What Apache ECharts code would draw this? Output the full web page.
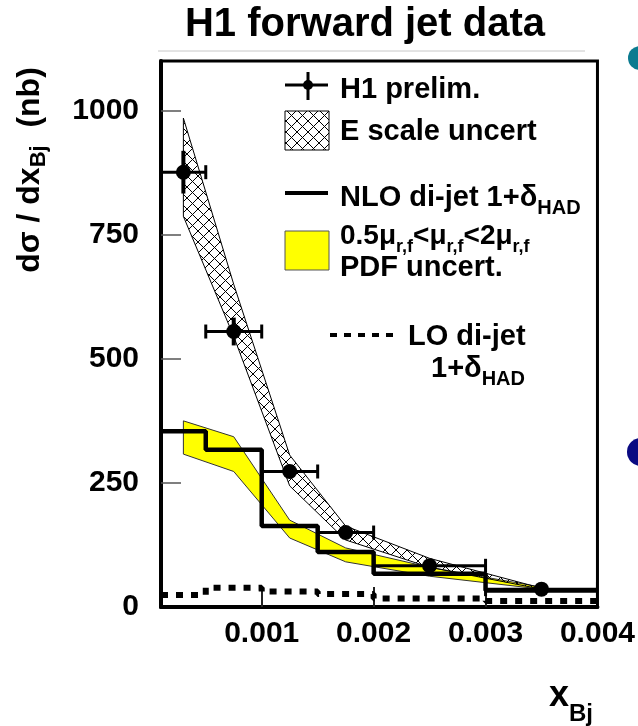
<!DOCTYPE html>
<html>
<head>
<meta charset="utf-8">
<script src="https://cdn.jsdelivr.net/npm/echarts@6/dist/echarts.min.js"></script>
<style>
html, body { margin: 0; padding: 0; background: #fff; }
#main { width: 638px; height: 726px; }
</style>
</head>
<body>
<div id="main"></div>
<script>
// bins in x_Bj
var binEdges = [0.0001, 0.0005, 0.001, 0.0015, 0.002, 0.003, 0.004];
// H1 prelim. points
var dataX = [0.0003, 0.00075, 0.00125, 0.00175, 0.0025, 0.0035];
var dataY = [876, 555, 273, 150, 83, 36];
var dataYErr = [43, 28, 8, 6, 5, 4];
// NLO / LO histograms (per bin)
var nloY = [354, 317, 163, 111, 67, 33];
var loY = [24, 39, 31, 26, 17, 12];
// bands
var bandX = [0.0003, 0.00075, 0.00125, 0.00175, 0.0025, 0.0035];
var escaleHigh = [985, 650, 306, 163, 98, 38];
var escaleLow = [787, 545, 244, 135, 80, 36];
var nloHigh = [375, 343, 175, 119, 80, 40];
var nloLow = [308, 273, 139, 91, 62, 36];
// tick labels
var xTicks = [0.001, 0.002, 0.003, 0.004];
var yTicks = [0, 250, 500, 750, 1000];

var FONT = '"Liberation Sans", Arial, Helvetica, sans-serif';

function makeHatch() {
    var c = document.createElement('canvas');
    c.width = 11;
    c.height = 11;
    var ctx = c.getContext('2d');
    ctx.strokeStyle = '#000';
    ctx.lineWidth = 1;
    ctx.beginPath();
    ctx.moveTo(-1, -1); ctx.lineTo(12, 12);
    ctx.moveTo(12, -1); ctx.lineTo(-1, 12);
    ctx.stroke();
    return c;
}
var hatch = { image: makeHatch(), repeat: 'repeat' };

function stepData(vals) {
    var out = [];
    for (var i = 0; i < binEdges.length; i++) {
        out.push([binEdges[i], vals[Math.min(i, vals.length - 1)]]);
    }
    return out;
}

function bandSeries(lo, hi, style, z) {
    return {
        type: 'custom',
        z: z,
        clip: true,
        silent: true,
        data: bandX.map(function (x, i) { return [x, lo[i], hi[i]]; }),
        encode: { x: 0, y: [1, 2] },
        renderItem: function (params, api) {
            if (params.dataIndex !== 0) return;
            var pts = [];
            for (var i = 0; i < bandX.length; i++) pts.push(api.coord([bandX[i], hi[i]]));
            for (var j = bandX.length - 1; j >= 0; j--) pts.push(api.coord([bandX[j], lo[j]]));
            return { type: 'polygon', shape: { points: pts }, style: style };
        }
    };
}

function txt(x, y, s, size) {
    return {
        type: 'text', x: x, y: y, z: 100,
        style: {
            text: s, fill: '#000',
            font: 'bold ' + (size || 29) + 'px ' + FONT,
            textAlign: 'left', textVerticalAlign: 'middle'
        }
    };
}

function richTxt(x, y, s, size, subSize) {
    return {
        type: 'text', x: x, y: y, z: 100,
        style: {
            text: s, fill: '#000',
            textAlign: 'left', textVerticalAlign: 'middle',
            rich: {
                m: { fontSize: size || 29, fontWeight: 'bold', fontFamily: FONT, lineHeight: 40, verticalAlign: 'middle', fill: '#000' },
                s: { fontSize: subSize || 20, fontWeight: 'bold', fontFamily: FONT, lineHeight: 16, verticalAlign: 'bottom', fill: '#000' }
            }
        }
    };
}

var myChart = echarts.init(document.getElementById('main'));

var option = {
    animation: false,
    backgroundColor: '#fff',
    grid: {
        left: 161, right: 40, top: 61, bottom: 119,
        show: true, borderColor: '#000', borderWidth: 3
    },
    xAxis: {
        type: 'value',
        min: 0.0001,
        max: 0.004,
        splitLine: { show: false },
        axisLine: { lineStyle: { color: '#000', width: 4 } },
        axisTick: {
            inside: true, length: 20,
            customValues: [0.001, 0.002, 0.003],
            lineStyle: { color: '#222', width: 2 }
        },
        axisLabel: {
            customValues: xTicks,
            showMaxLabel: true,
            margin: 12,
            color: '#000', fontSize: 30, fontWeight: 'bold', fontFamily: FONT, lineHeight: 30,
            formatter: function (v) { return v.toFixed(3); }
        }
    },
    yAxis: {
        type: 'value',
        min: 0,
        max: 1100,
        splitLine: { show: false },
        axisLine: { lineStyle: { color: '#000', width: 4 } },
        axisTick: {
            inside: true, length: 20,
            customValues: [250, 500, 750, 1000],
            lineStyle: { color: '#555', width: 1.5 }
        },
        axisLabel: {
            customValues: yTicks,
            margin: 22,
            color: '#000', fontSize: 30, fontWeight: 'bold', fontFamily: FONT,
            formatter: function (v) { return String(v); }
        }
    },
    series: [
        bandSeries(nloLow, nloHigh, { fill: '#ffff00', stroke: '#333', lineWidth: 1 }, 1),
        bandSeries(escaleLow, escaleHigh, { fill: hatch, stroke: '#000', lineWidth: 1 }, 2),
        {
            name: 'LO', type: 'line', step: 'end', z: 3,
            data: stepData(loY), symbol: 'none',
            lineStyle: { color: '#000', width: 6, type: [7, 8] }
        },
        {
            name: 'NLO', type: 'line', step: 'end', z: 4,
            data: stepData(nloY), symbol: 'none',
            lineStyle: { color: '#000', width: 4.5 }
        },
        {
            name: 'errors', type: 'custom', z: 5, clip: true,
            data: dataX.map(function (x, i) {
                return [x, dataY[i], binEdges[i], binEdges[i + 1], dataYErr[i]];
            }),
            encode: { x: 0, y: 1 },
            renderItem: function (params, api) {
                var y = api.value(1), e = api.value(4);
                var l = api.coord([api.value(2), y]);
                var r = api.coord([api.value(3), y]);
                var t = api.coord([api.value(0), y + e]);
                var b = api.coord([api.value(0), y - e]);
                var st = { stroke: '#000', lineWidth: 3 };
                return {
                    type: 'group',
                    children: [
                        { type: 'line', shape: { x1: l[0], y1: l[1], x2: r[0], y2: r[1] }, style: st },
                        { type: 'line', shape: { x1: l[0], y1: l[1] - 7, x2: l[0], y2: l[1] + 7 }, style: st },
                        { type: 'line', shape: { x1: r[0], y1: r[1] - 7, x2: r[0], y2: r[1] + 7 }, style: st },
                        { type: 'line', shape: { x1: t[0], y1: t[1], x2: b[0], y2: b[1] }, style: { stroke: '#000', lineWidth: 4 } }
                    ]
                };
            }
        },
        {
            name: 'H1 prelim.', type: 'scatter', z: 6,
            data: dataX.map(function (x, i) { return [x, dataY[i]]; }),
            symbol: 'circle', symbolSize: 15,
            itemStyle: { color: '#000', opacity: 1 }
        }
    ],
    graphic: [
        // title
        {
            type: 'text', x: 365, y: 25, z: 100,
            style: {
                text: 'H1 forward jet data', fill: '#000',
                font: 'bold 40px ' + FONT, textAlign: 'center', textVerticalAlign: 'middle'
            }
        },
        { type: 'line', z: 1, shape: { x1: 158, y1: 51, x2: 585, y2: 51 }, style: { stroke: '#c8c8c8', lineWidth: 1 } },
        // slide bullets at the right edge
        { type: 'circle', shape: { cx: 640, cy: 58, r: 12 }, style: { fill: '#0b7b90' } },
        { type: 'circle', shape: { cx: 641, cy: 452, r: 14 }, style: { fill: '#0a0a82' } },

        // legend
        { type: 'line', z: 100, shape: { x1: 285, y1: 85, x2: 328, y2: 85 }, style: { stroke: '#000', lineWidth: 3 } },
        { type: 'line', z: 100, shape: { x1: 308, y1: 72, x2: 308, y2: 100 }, style: { stroke: '#000', lineWidth: 3 } },
        { type: 'circle', z: 100, shape: { cx: 308, cy: 85, r: 5 }, style: { fill: '#000' } },
        txt(340, 90, 'H1 prelim.'),
        { type: 'rect', z: 100, shape: { x: 285, y: 111, width: 44, height: 39 }, style: { fill: hatch, stroke: '#000', lineWidth: 1 } },
        txt(340, 132, 'E scale uncert'),
        { type: 'line', z: 100, shape: { x1: 285, y1: 193, x2: 328, y2: 193 }, style: { stroke: '#000', lineWidth: 4 } },
        richTxt(340, 198, '{m|NLO di-jet 1+δ}{s|HAD}'),
        { type: 'rect', z: 100, shape: { x: 285, y: 231, width: 44, height: 39 }, style: { fill: '#ffff00', stroke: '#555', lineWidth: 1 } },
        richTxt(340, 236, '{m|0.5μ}{s|r,f}{m|<μ}{s|r,f}{m|<2μ}{s|r,f}', 28, 18),
        txt(340, 268, 'PDF uncert.'),
        { type: 'line', z: 100, shape: { x1: 330, y1: 335, x2: 397, y2: 335 }, style: { stroke: '#000', lineWidth: 4, lineDash: [7, 7] } },
        txt(408, 337, 'LO di-jet'),
        richTxt(431, 369, '{m|1+δ}{s|HAD}'),

        // axis titles
        {
            type: 'text', x: 549, y: 696, z: 100,
            style: {
                text: '{m|x}{s|Bj}', fill: '#000', textAlign: 'left', textVerticalAlign: 'middle',
                rich: {
                    m: { fontSize: 36, fontWeight: 'bold', fontFamily: FONT, lineHeight: 60, verticalAlign: 'middle', fill: '#000' },
                    s: { fontSize: 24, fontWeight: 'bold', fontFamily: FONT, lineHeight: 10, verticalAlign: 'bottom', fill: '#000' }
                }
            }
        },
        {
            type: 'text', x: 30, y: 170, z: 100, rotation: Math.PI / 2,
            style: {
                text: '{m|dσ / dx}{s|Bj}{m|  (nb)}', fill: '#000', textAlign: 'center', textVerticalAlign: 'middle',
                rich: {
                    m: { fontSize: 32, fontWeight: 'bold', fontFamily: FONT, lineHeight: 40, verticalAlign: 'middle', fill: '#000' },
                    s: { fontSize: 22, fontWeight: 'bold', fontFamily: FONT, lineHeight: 14, verticalAlign: 'bottom', fill: '#000' }
                }
            }
        }
    ]
};

myChart.setOption(option);
</script>
</body>
</html>
